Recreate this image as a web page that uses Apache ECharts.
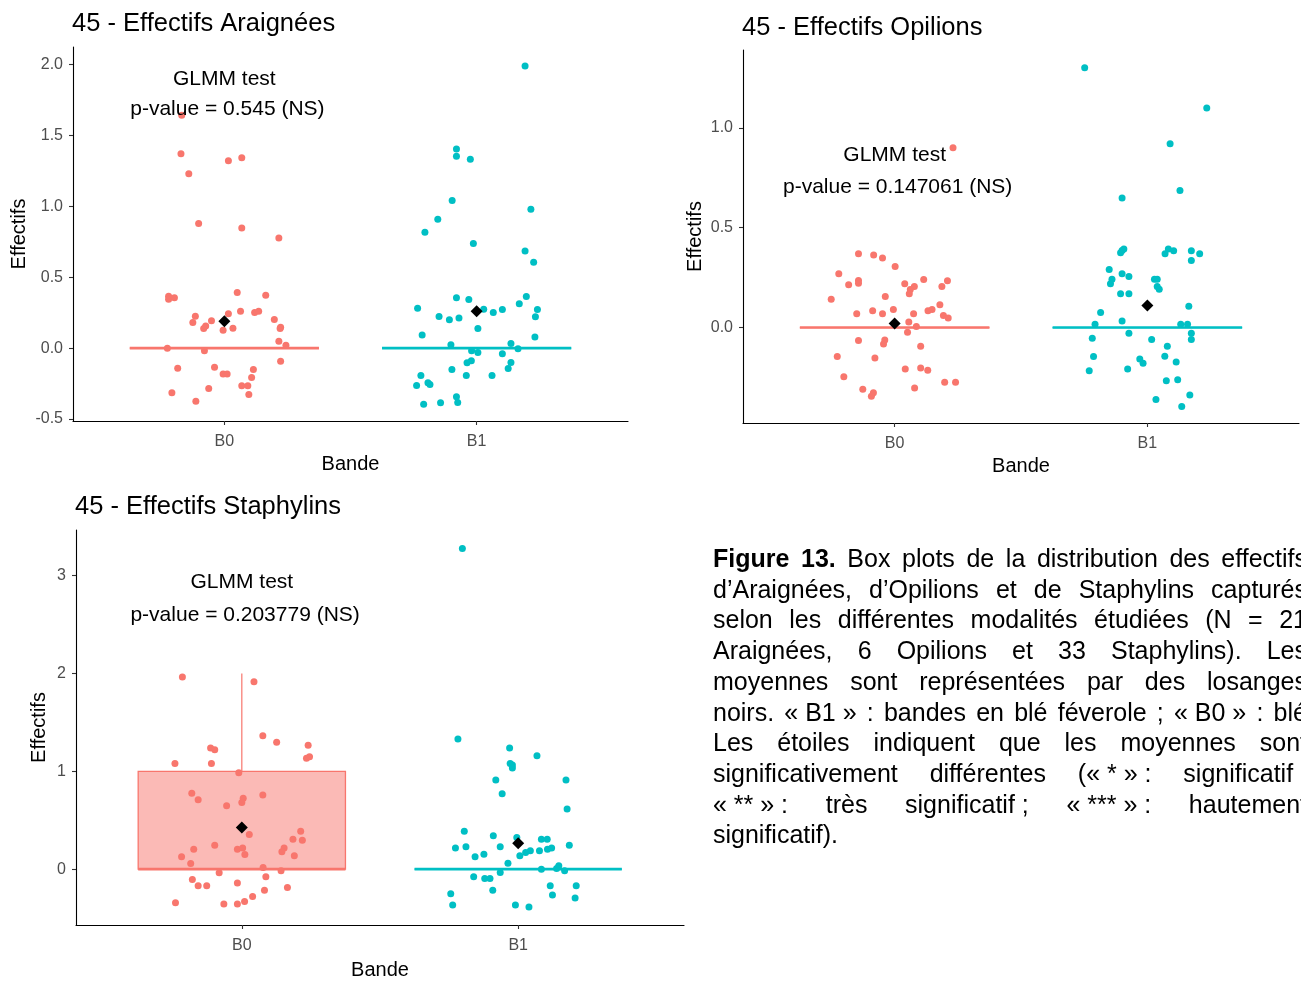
<!DOCTYPE html>
<html>
<head>
<meta charset="utf-8">
<script src="https://cdn.jsdelivr.net/npm/echarts@6/dist/echarts.min.js"></script>
<style>
  html, body { margin:0; padding:0; background:#fff; overflow:hidden; width:1301px; height:981px; }
  #chart { position:absolute; left:0; top:0; width:1301px; height:981px; }
  #caption { position:absolute; left:713px; top:543px; width:594px; font-family:"Liberation Sans", Arial, sans-serif; font-size:25px; line-height:30.7px; color:#000; }
  #caption div { text-align:justify; text-align-last:justify; }
  #caption div.last { text-align-last:left; }
  #caption span.u { display:inline-block; }
</style>
</head>
<body>
<div id="chart"></div>
<div id="caption"></div>
<script>
// ---------------- data ----------------
const categories = ['B0', 'B1'];
const titles = ['45 - Effectifs Araignées', '45 - Effectifs Opilions', '45 - Effectifs Staphylins'];
const pValues = ['p-value = 0.545 (NS)', 'p-value = 0.147061 (NS)', 'p-value = 0.203779 (NS)'];

// jittered points: [horizontal jitter from category, value]
const araB0 = [[-0.169,1.643],[-0.172,1.372],[-0.141,1.231],[0.016,1.323],[0.069,1.344],[-0.102,0.879],[0.069,0.848],[0.216,0.778],[-0.221,0.367],[-0.221,0.345],[-0.198,0.355],[0.051,0.392],[0.164,0.374],[0.064,0.261],[0.12,0.251],[0.136,0.261],[-0.115,0.226],[-0.125,0.181],[-0.051,0.193],[0.016,0.242],[0.198,0.202],[-0.082,0.139],[-0.074,0.157],[-0.005,0.127],[0.034,0.141],[0.223,0.148],[0.221,0.139],[0.216,0.049],[0.244,0.021],[-0.226,0.0],[-0.079,-0.019],[-0.185,-0.141],[-0.039,-0.134],[0.223,-0.092],[-0.005,-0.183],[0.011,-0.183],[0.115,-0.15],[0.108,-0.207],[-0.208,-0.315],[-0.062,-0.284],[0.069,-0.266],[0.093,-0.266],[0.097,-0.327],[-0.113,-0.374]];
const araB1 = [[0.192,1.991],[-0.08,1.405],[-0.08,1.354],[-0.025,1.333],[-0.097,1.041],[0.215,0.98],[-0.154,0.91],[-0.205,0.818],[-0.013,0.738],[0.192,0.686],[0.226,0.606],[0.197,0.364],[-0.08,0.355],[-0.031,0.343],[0.169,0.313],[-0.234,0.282],[0.028,0.275],[0.066,0.251],[0.102,0.273],[0.241,0.273],[-0.149,0.223],[-0.108,0.2],[-0.07,0.212],[0.233,0.221],[0.005,0.139],[-0.216,0.092],[0.231,0.078],[-0.102,0.024],[0.136,0.033],[0.164,-0.005],[-0.02,-0.019],[0.005,-0.031],[0.102,-0.04],[0.136,-0.101],[-0.038,-0.103],[-0.021,-0.089],[-0.098,-0.15],[0.125,-0.143],[-0.221,-0.193],[-0.041,-0.193],[0.061,-0.193],[-0.238,-0.263],[-0.193,-0.244],[-0.185,-0.256],[-0.08,-0.343],[-0.075,-0.383],[-0.21,-0.395],[-0.143,-0.385]];
const opiB0 = [[0.231,0.9],[-0.143,0.37],[-0.083,0.363],[-0.048,0.348],[0.002,0.306],[-0.221,0.269],[-0.143,0.236],[-0.143,0.222],[0.115,0.241],[0.209,0.234],[-0.182,0.214],[0.04,0.219],[0.078,0.206],[0.062,0.191],[0.187,0.206],[0.058,0.169],[-0.037,0.156],[-0.251,0.142],[0.179,0.114],[-0.005,0.09],[-0.087,0.084],[0.132,0.084],[0.148,0.09],[-0.15,0.069],[-0.048,0.069],[0.075,0.069],[0.193,0.06],[0.212,0.048],[0.056,0.028],[0.086,0.005],[0.051,-0.023],[-0.143,-0.065],[-0.039,-0.062],[-0.044,-0.082],[0.103,-0.094],[-0.227,-0.145],[-0.078,-0.152],[0.042,-0.207],[0.103,-0.202],[0.131,-0.214],[-0.201,-0.246],[0.198,-0.274],[0.241,-0.274],[-0.126,-0.309],[0.079,-0.303],[-0.084,-0.326],[-0.092,-0.344]];
const opiB1 = [[-0.248,1.301],[0.235,1.1],[0.09,0.921],[0.129,0.686],[-0.1,0.649],[-0.1,0.386],[-0.093,0.393],[-0.106,0.375],[0.083,0.393],[0.104,0.385],[0.07,0.37],[0.174,0.385],[0.207,0.37],[0.174,0.336],[-0.151,0.291],[-0.14,0.242],[-0.146,0.219],[-0.1,0.269],[-0.073,0.256],[0.028,0.242],[0.039,0.242],[0.039,0.206],[0.047,0.192],[-0.106,0.169],[-0.073,0.169],[0.164,0.107],[-0.185,0.075],[-0.1,0.033],[-0.207,0.017],[0.132,0.017],[0.159,0.017],[0.174,-0.028],[-0.073,-0.028],[-0.218,-0.054],[0.017,-0.06],[0.174,-0.06],[0.079,-0.094],[-0.213,-0.145],[0.069,-0.144],[-0.03,-0.157],[-0.017,-0.179],[0.114,-0.172],[-0.078,-0.207],[-0.23,-0.216],[0.075,-0.266],[0.12,-0.261],[0.034,-0.36],[0.168,-0.338],[0.136,-0.395]];
const staB0 = [[-0.215,1.964],[0.044,1.916],[0.076,1.363],[0.126,1.298],[0.24,1.267],[-0.113,1.237],[-0.098,1.22],[0.234,1.132],[0.245,1.148],[-0.242,1.08],[-0.11,1.08],[-0.011,0.985],[-0.181,0.775],[0.076,0.758],[-0.158,0.71],[0.005,0.724],[0.0,0.68],[-0.055,0.649],[0.213,0.387],[0.027,0.353],[0.185,0.306],[0.219,0.296],[-0.098,0.245],[-0.174,0.204],[-0.016,0.204],[0.003,0.217],[0.153,0.217],[0.145,0.177],[0.011,0.15],[0.19,0.136],[-0.218,0.126],[-0.185,0.058],[0.077,0.017],[0.142,-0.017],[-0.082,-0.037],[0.087,-0.078],[-0.179,-0.105],[-0.158,-0.17],[-0.127,-0.17],[-0.016,-0.143],[0.165,-0.187],[0.082,-0.217],[0.039,-0.279],[0.01,-0.33],[-0.24,-0.343],[-0.065,-0.357],[-0.016,-0.357]];
const staB1 = [[-0.202,3.276],[-0.218,1.329],[-0.031,1.237],[0.068,1.159],[-0.029,1.08],[-0.021,1.064],[-0.021,1.033],[-0.081,0.911],[0.173,0.911],[-0.058,0.771],[0.177,0.615],[-0.195,0.387],[-0.09,0.34],[-0.005,0.323],[0.084,0.306],[0.105,0.306],[0.185,0.245],[-0.227,0.217],[-0.189,0.228],[-0.065,0.228],[0.106,0.204],[0.121,0.217],[0.077,0.187],[0.044,0.187],[0.027,0.17],[0.006,0.136],[-0.124,0.153],[-0.156,0.126],[-0.037,0.061],[0.147,0.034],[0.139,0.007],[0.084,0.0],[0.168,-0.017],[-0.065,-0.034],[-0.161,-0.078],[-0.121,-0.095],[-0.102,-0.095],[0.116,-0.17],[0.21,-0.17],[-0.092,-0.217],[-0.244,-0.251],[0.124,-0.265],[0.206,-0.296],[-0.237,-0.367],[-0.01,-0.367],[0.039,-0.387]];

// box statistics per category: [lower whisker, Q1, median, Q3, upper whisker]
const araBox = [[0,0,0,0,0],[0,0,0,0,0]];
const opiBox = [[0,0,0,0,0],[0,0,0,0,0]];
const staBox = [[0,0,0,1,2],[0,0,0,0,0]];

// group means (black diamonds)
const araMean = [0.19, 0.26];
const opiMean = [0.02, 0.11];
const staMean = [0.425, 0.265];

// annotation heights (data units)
const annotY = [[1.895, 1.683], [0.865, 0.705], [2.93, 2.6]];

// y-axis tick labels
const araTicks = [-0.5, 0, 0.5, 1, 1.5, 2];
const opiTicks = [0, 0.5, 1];
const staTicks = [0, 1, 2, 3];

const captionLines = [
  '<b>Figure 13.</b> Box plots de la distribution des effectifs',
  'd’Araignées, d’Opilions et de Staphylins capturés',
  'selon les différentes modalités étudiées (N = 21',
  'Araignées, 6 Opilions et 33 Staphylins). Les',
  'moyennes sont représentées par des losanges',
  'noirs. <span class="u">«&nbsp;B1&nbsp;»</span> : bandes en blé féverole ; <span class="u">«&nbsp;B0&nbsp;»</span> : blé',
  'Les étoiles indiquent que les moyennes sont',
  'significativement différentes <span class="u">(«&nbsp;*&nbsp;»&nbsp;:</span> <span class="u">significatif&nbsp;;</span>',
  '<span class="u">«&nbsp;**&nbsp;»&nbsp;:</span> très <span class="u">significatif&nbsp;;</span> <span class="u">«&nbsp;***&nbsp;»&nbsp;:</span> hautement',
  'significatif).'
];

// ---------------- styling / layout ----------------
const RED = '#F8766D', TEAL = '#00BFC4';
const FONT = '"Liberation Sans", Arial, sans-serif';
const grids = [
  {left: 73, top: 47, width: 555, height: 374},
  {left: 743, top: 50, width: 556, height: 373},
  {left: 76, top: 530, width: 608, height: 396}
];
const yRanges = [[-0.514, 2.125], [-0.478, 1.39], [-0.571, 3.466]];
const yTickSets = [araTicks, opiTicks, staTicks];
const yDecimals = [1, 1, 0];
const titlePos = [{left: 72, top: 11}, {left: 742, top: 15}, {left: 75, top: 494}];
const xNameGap = [33, 33, 35];
const yNameGap = [44, 38, 27];

const pointsSets = [[araB0, araB1], [opiB0, opiB1], [staB0, staB1]];
const boxSets = [araBox, opiBox, staBox];
const meanSets = [araMean, opiMean, staMean];

function boxRender(params, api) {
  const x = api.value(0), lo = api.value(1), q1 = api.value(2), med = api.value(3), q3 = api.value(4), hi = api.value(5);
  const color = api.value(6) === 0 ? RED : TEAL;
  const fill = api.value(6) === 0 ? 'rgba(248,118,109,0.5)' : 'rgba(0,191,196,0.5)';
  const hw = 0.375;
  const children = [];
  if (hi > q3) {
    const a = api.coord([x, q3]), b = api.coord([x, hi]);
    children.push({type: 'line', shape: {x1: a[0], y1: a[1], x2: b[0], y2: b[1]}, style: {stroke: color, lineWidth: 1.2}});
  }
  if (lo < q1) {
    const a = api.coord([x, q1]), b = api.coord([x, lo]);
    children.push({type: 'line', shape: {x1: a[0], y1: a[1], x2: b[0], y2: b[1]}, style: {stroke: color, lineWidth: 1.2}});
  }
  const tl = api.coord([x - hw, q3]), br = api.coord([x + hw, q1]);
  children.push({type: 'rect', shape: {x: tl[0], y: tl[1], width: br[0] - tl[0], height: br[1] - tl[1]},
    style: {fill: fill, stroke: color, lineWidth: 1.3}});
  const m1 = api.coord([x - hw, med]), m2 = api.coord([x + hw, med]);
  children.push({type: 'line', shape: {x1: m1[0], y1: m1[1], x2: m2[0], y2: m2[1]}, style: {stroke: color, lineWidth: 2.6}});
  return {type: 'group', children: children};
}

const option = {
  animation: false,
  backgroundColor: '#fff',
  textStyle: {fontFamily: FONT},
  title: titles.map((t, i) => ({text: t, left: titlePos[i].left, top: titlePos[i].top, padding: 0,
    textStyle: {fontFamily: FONT, fontSize: 25.5, fontWeight: 'normal', color: '#000'}})),
  grid: grids.map(g => Object.assign({containLabel: false}, g)),
  xAxis: grids.map((g, i) => ({
    type: 'value', gridIndex: i, min: 0.4, max: 2.6,
    name: 'Bande', nameLocation: 'middle', nameGap: xNameGap[i],
    nameTextStyle: {fontFamily: FONT, fontSize: 20, color: '#000'},
    axisLine: {show: true, onZero: false, lineStyle: {color: '#000', width: 1.1}},
    axisTick: {show: true, length: 4, customValues: [1, 2], lineStyle: {color: '#333', width: 1.1}},
    axisLabel: {show: true, customValues: [1, 2], margin: 13, fontFamily: FONT, fontSize: 16, color: '#4D4D4D',
      formatter: v => categories[Math.round(v) - 1]},
    splitLine: {show: false}
  })),
  yAxis: grids.map((g, i) => ({
    type: 'value', gridIndex: i, min: yRanges[i][0], max: yRanges[i][1],
    name: 'Effectifs', nameLocation: 'middle', nameGap: yNameGap[i],
    nameTextStyle: {fontFamily: FONT, fontSize: 20, color: '#000'},
    axisLine: {show: true, onZero: false, lineStyle: {color: '#000', width: 1.1}},
    axisTick: {show: true, length: 4, customValues: yTickSets[i], lineStyle: {color: '#333', width: 1.1}},
    axisLabel: {show: true, customValues: yTickSets[i], margin: 10, fontFamily: FONT, fontSize: 16, color: '#4D4D4D',
      formatter: v => Number(v).toFixed(yDecimals[i])},
    splitLine: {show: false}
  })),
  series: []
};

for (let i = 0; i < 3; i++) {
  option.series.push({
    type: 'custom', xAxisIndex: i, yAxisIndex: i, renderItem: boxRender, z: 1, silent: true,
    data: boxSets[i].map((b, k) => [k + 1].concat(b).concat([k]))
  });
  pointsSets[i].forEach((pts, k) => {
    option.series.push({
      type: 'scatter', xAxisIndex: i, yAxisIndex: i, z: 2, silent: true,
      symbol: 'circle', symbolSize: 7,
      itemStyle: {color: k === 0 ? RED : TEAL, opacity: 1},
      data: pts.map(p => [k + 1 + p[0], p[1]])
    });
  });
  option.series.push({
    type: 'scatter', xAxisIndex: i, yAxisIndex: i, z: 3, silent: true,
    symbol: 'diamond', symbolSize: 12, itemStyle: {color: '#000', opacity: 1},
    data: meanSets[i].map((m, k) => [k + 1, m])
  });
  option.series.push({
    type: 'scatter', xAxisIndex: i, yAxisIndex: i, z: 4, silent: true,
    symbolSize: 1, itemStyle: {color: 'rgba(0,0,0,0)', opacity: 1},
    label: {show: true, position: 'inside', formatter: p => p.name, fontFamily: FONT, fontSize: 21,
      color: '#000', opacity: 1, textBorderWidth: 0},
    data: [{name: 'GLMM test', value: [1, annotY[i][0]]}, {name: pValues[i], value: [1.012, annotY[i][1]]}]
  });
}

const chart = echarts.init(document.getElementById('chart'), null, {renderer: 'canvas'});
chart.setOption(option);

document.getElementById('caption').innerHTML = captionLines
  .map((l, i) => '<div' + (i === captionLines.length - 1 ? ' class="last"' : '') + '>' + l + '</div>').join('');
</script>
</body>
</html>
